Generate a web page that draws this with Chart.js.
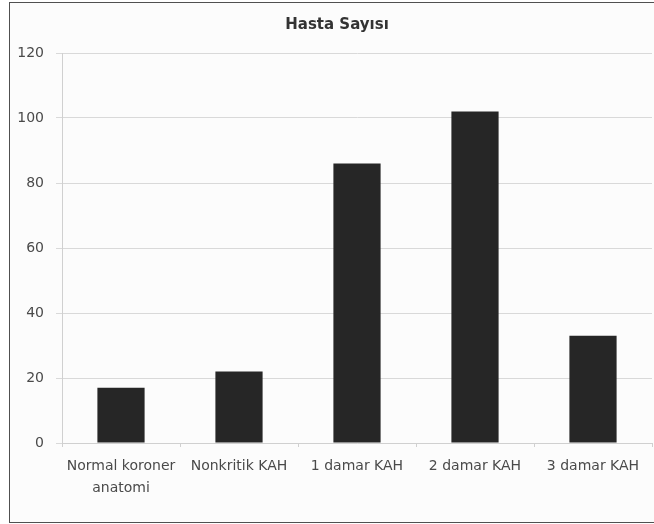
<!DOCTYPE html>
<html>
<head>
<meta charset="utf-8">
<script src="https://cdn.jsdelivr.net/npm/chart.js@4.4.1/dist/chart.umd.min.js"></script>
<style>
  html, body { margin: 0; padding: 0; background: #ffffff; overflow: hidden; }
  #frame {
    position: absolute; left: 9px; top: 2px; width: 680px; height: 521px;
    box-sizing: border-box; border: 1px solid #505050; background: #fcfcfc;
  }
  #wrap { position: absolute; left: 0; top: 0; width: 666px; height: 524px; }
</style>
</head>
<body>
<div id="frame"></div>
<div id="wrap"><canvas id="chart" width="666" height="524"></canvas></div>
<script>
// Hasta sayısı by coronary finding
const categories = [
  ['Normal koroner', 'anatomi'],
  'Nonkritik KAH',
  '1 damar KAH',
  '2 damar KAH',
  '3 damar KAH'
];
const hastaSayisi = [17, 22, 86, 102, 33];
const yTicks = [0, 20, 40, 60, 80, 100, 120];

const FONT = "'DejaVu Sans', 'Liberation Sans', sans-serif";

new Chart(document.getElementById('chart'), {
  type: 'bar',
  data: {
    labels: categories,
    datasets: [{
      label: 'Hasta Sayısı',
      data: hastaSayisi,
      backgroundColor: '#262626',
      borderWidth: 0,
      categoryPercentage: 1.0,
      barPercentage: 0.4
    }]
  },
  options: {
    responsive: false,
    animation: false,
    devicePixelRatio: 1,
    layout: { padding: { left: 10, right: 2, top: 3, bottom: 2 } },
    plugins: {
      legend: { display: false },
      tooltip: { enabled: false },
      title: {
        display: true,
        text: 'Hasta Sayısı',
        color: '#333333',
        font: { family: FONT, size: 15, weight: 'bold', lineHeight: 1.2 },
        padding: { top: 13, bottom: 19 }
      }
    },
    scales: {
      x: {
        grid: {
          display: true,
          drawOnChartArea: false,
          drawTicks: true,
          tickLength: 4,
          color: '#d0d0d0',
          offset: true
        },
        border: { display: true, color: '#d0d0d0' },
        ticks: {
          color: '#4a4a4a',
          padding: 9,
          maxRotation: 0,
          autoSkip: false,
          font: { family: FONT, size: 14, lineHeight: 1.55 }
        },
        afterFit: (scale) => { scale.height = 79; }
      },
      y: {
        min: 0,
        max: 120,
        afterBuildTicks: (scale) => { scale.ticks = yTicks.map(v => ({ value: v })); },
        grid: {
          color: '#d9d9d9',
          drawTicks: true,
          tickLength: 6
        },
        border: { display: true, color: '#d0d0d0' },
        ticks: {
          color: '#4a4a4a',
          padding: 12,
          font: { family: FONT, size: 14 }
        },
        afterFit: (scale) => { scale.width = 52; }
      },
      yRight: {
        position: 'right',
        display: true,
        grid: { display: false },
        border: { display: false },
        ticks: { display: false },
        afterFit: (scale) => { scale.width = 12; }
      }
    }
  }
});
</script>
</body>
</html>
